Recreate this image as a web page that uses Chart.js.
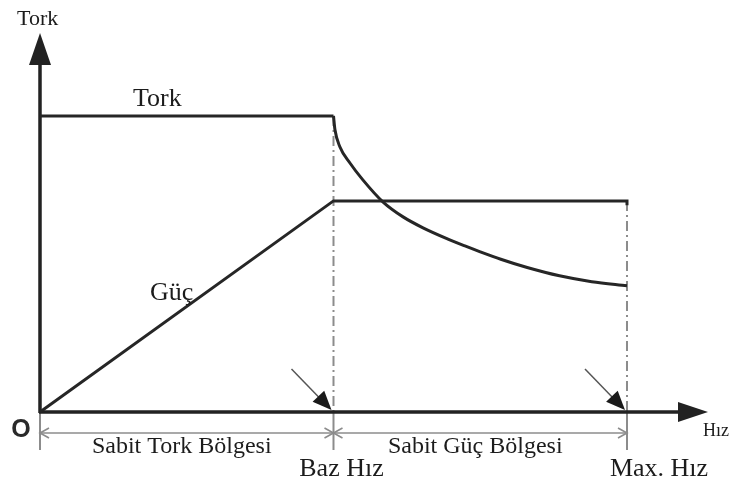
<!DOCTYPE html>
<html>
<head>
<meta charset="utf-8">
<script src="https://cdn.jsdelivr.net/npm/chart.js@4.4.1/dist/chart.umd.min.js"></script>
<style>
  body { margin: 0; background: #fff; }
  #wrap { width: 736px; height: 485px; }
</style>
</head>
<body>
<div id="wrap"><canvas id="chart"></canvas></div>
<script>
// speed in units of base speed, torque in % of rated torque
const torqueSpeed = [0, 1, 1.005, 1.022, 1.056, 1.10, 1.169, 1.237, 1.305, 1.39, 1.45, 1.50, 1.57, 1.66, 1.77, 1.88, 2.0];
const torque      = [100, 100, 95.3, 89.5, 84.1, 78.4, 70.9, 65.9, 62.2, 58.4, 56.0, 54.1, 51.6, 48.8, 46.0, 44.0, 42.6];
const powerSpeed  = [0, 1, 2, 2];
const power       = [0, 71.3, 71.3, 69.8];

const markSpeeds   = [1, 2];
const markLabels   = ['Baz Hız', 'Max. Hız'];
const regionLabels = ['Sabit Tork Bölgesi', 'Sabit Güç Bölgesi'];
const seriesNames  = ['Tork', 'Güç'];
const yTitle = 'Tork';
const xTitle = 'Hız';

const SERIF = '"Liberation Serif", "DejaVu Serif", serif';
const INK = '#1c1c1c';

function toPoints(xs, ys) {
    return xs.map((v, i) => ({ x: v, y: ys[i] }));
}

function arrowHead(ctx, tx, ty, angle, len, half) {
    ctx.beginPath();
    ctx.moveTo(tx, ty);
    ctx.lineTo(tx - len * Math.cos(angle) + half * Math.sin(angle), ty - len * Math.sin(angle) - half * Math.cos(angle));
    ctx.lineTo(tx - len * Math.cos(angle) - half * Math.sin(angle), ty - len * Math.sin(angle) + half * Math.cos(angle));
    ctx.closePath();
    ctx.fill();
}

function chevron(ctx, tx, ty, dir) {
    ctx.beginPath();
    ctx.moveTo(tx + dir * 9, ty - 5);
    ctx.lineTo(tx, ty);
    ctx.lineTo(tx + dir * 9, ty + 5);
    ctx.stroke();
}

const diagram = {
    id: 'diagram',
    beforeDatasetsDraw(chart) {
        const { ctx, chartArea, scales: { x, y } } = chart;
        const x0 = x.getPixelForValue(0), y0 = y.getPixelForValue(0);
        ctx.save();

        // dash-dot guides at base and max speed
        const tops = [torque[1], power[2]];
        ctx.strokeStyle = '#8c8c8c';
        ctx.lineWidth = 2;
        markSpeeds.forEach((v, i) => {
            const px = x.getPixelForValue(v);
            ctx.setLineDash([10, 4, 2, 4]);
            ctx.beginPath();
            ctx.moveTo(px, y.getPixelForValue(tops[i]));
            ctx.lineTo(px, y0);
            ctx.stroke();
            ctx.setLineDash([]);
            ctx.beginPath();
            ctx.moveTo(px, y0);
            ctx.lineTo(px, y0 + 38);
            ctx.stroke();
        });
        ctx.beginPath();
        ctx.moveTo(x0, y0);
        ctx.lineTo(x0, y0 + 38);
        ctx.stroke();

        // region dimension line
        const yd = y0 + 21;
        const x1 = x.getPixelForValue(markSpeeds[0]), x2 = x.getPixelForValue(markSpeeds[1]);
        ctx.lineWidth = 1.6;
        ctx.beginPath();
        ctx.moveTo(x0, yd);
        ctx.lineTo(x2, yd);
        ctx.stroke();
        chevron(ctx, x0, yd, 1);
        chevron(ctx, x1, yd, -1);
        chevron(ctx, x1, yd, 1);
        chevron(ctx, x2, yd, -1);

        // axes with arrows
        ctx.strokeStyle = '#222';
        ctx.fillStyle = '#222';
        ctx.lineWidth = 3.5;
        ctx.beginPath();
        ctx.moveTo(x0, y0 + 1);
        ctx.lineTo(x0, chartArea.top + 28);
        ctx.moveTo(x0 - 1, y0);
        ctx.lineTo(chartArea.right - 26, y0);
        ctx.stroke();
        arrowHead(ctx, x0, chartArea.top, -Math.PI / 2, 32, 11);
        arrowHead(ctx, chartArea.right, y0, 0, 30, 10);

        ctx.restore();
    },
    afterDatasetsDraw(chart) {
        const { ctx, chartArea, scales: { x, y } } = chart;
        const x0 = x.getPixelForValue(0), y0 = y.getPixelForValue(0);
        ctx.save();

        // pointer arrows onto the axis
        ctx.strokeStyle = '#555';
        ctx.fillStyle = '#1a1a1a';
        ctx.lineWidth = 1.5;
        markSpeeds.forEach(v => {
            const tx = x.getPixelForValue(v) - 2, ty = y0 - 2;
            const ang = Math.atan2(41, 39);
            ctx.beginPath();
            ctx.moveTo(tx - 40, ty - 41);
            ctx.lineTo(tx - 10, ty - 10);
            ctx.stroke();
            arrowHead(ctx, tx, ty, ang, 19, 8);
        });

        ctx.fillStyle = INK;
        ctx.textBaseline = 'alphabetic';

        ctx.textAlign = 'left';
        ctx.font = '22px ' + SERIF;
        ctx.fillText(yTitle, x0 - 23, 25);
        ctx.font = '18px ' + SERIF;
        ctx.fillText(xTitle, chartArea.right - 5, y0 + 24);

        ctx.font = '26px ' + SERIF;
        ctx.fillText(seriesNames[0], x0 + 93, y.getPixelForValue(torque[0]) - 10);
        ctx.fillText(seriesNames[1], x0 + 110, y0 - 112);

        ctx.textAlign = 'center';
        ctx.font = 'bold 25px "Liberation Sans", Arial, sans-serif';
        ctx.fillStyle = '#2a2a2a';
        ctx.fillText('O', x0 - 19, y0 + 25);

        ctx.fillStyle = INK;
        ctx.font = '24px ' + SERIF;
        const bounds = [0].concat(markSpeeds);
        regionLabels.forEach((t, i) => {
            const cx = (x.getPixelForValue(bounds[i]) + x.getPixelForValue(bounds[i + 1])) / 2;
            ctx.fillText(t, cx - 5, y0 + 41);
        });
        ctx.font = '26px ' + SERIF;
        markLabels.forEach((t, i) => {
            ctx.fillText(t, x.getPixelForValue(markSpeeds[i]) + 8 + i * 24, y0 + 64);
        });

        ctx.restore();
    }
};

const lineStyle = {
    showLine: true,
    borderColor: '#262626',
    borderWidth: 3,
    pointRadius: 0,
    tension: 0,
    clip: false,
    fill: false
};

// constant-torque part and field-weakening part of the torque curve
const torqueFlat  = toPoints(torqueSpeed.slice(0, 2), torque.slice(0, 2));
const torqueCurve = toPoints(torqueSpeed.slice(1), torque.slice(1));

new Chart(document.getElementById('chart'), {
    type: 'scatter',
    data: {
        datasets: [
            Object.assign({ label: seriesNames[0], data: torqueFlat }, lineStyle),
            Object.assign({}, lineStyle, { label: seriesNames[0] + ' (sabit güç)', data: torqueCurve, cubicInterpolationMode: 'monotone' }),
            Object.assign({ label: seriesNames[1], data: toPoints(powerSpeed, power) }, lineStyle)
        ]
    },
    options: {
        responsive: true,
        maintainAspectRatio: false,
        animation: false,
        layout: { padding: { left: 40, right: 28, top: 33, bottom: 73 } },
        plugins: { legend: { display: false }, tooltip: { enabled: false } },
        scales: {
            x: { type: 'linear', min: 0, max: 2.276, display: false },
            y: { type: 'linear', min: 0, max: 128, display: false }
        }
    },
    plugins: [diagram]
});
</script>
</body>
</html>
